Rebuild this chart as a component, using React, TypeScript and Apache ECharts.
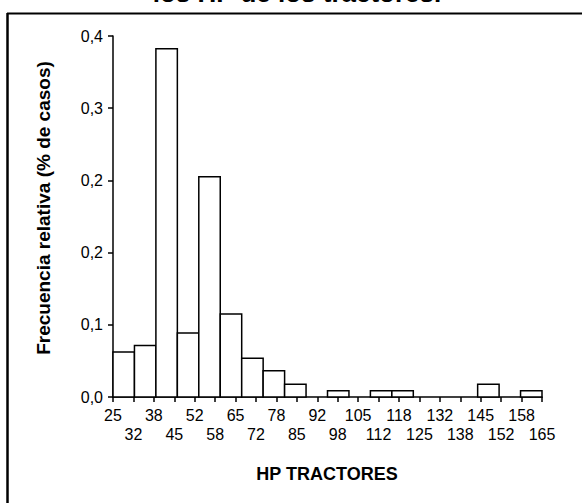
import React, { useEffect, useRef } from "react";
import * as echarts from "echarts";

// Histogram bins (HP) and relative frequencies
const binStarts = [25, 32, 39, 46, 53, 60, 67, 74, 81, 88, 95, 102, 109, 116, 123, 130, 137, 144, 151, 158];
const binEnds = [32, 39, 46, 53, 60, 67, 74, 81, 88, 95, 102, 109, 116, 123, 130, 137, 144, 151, 158, 165];
const freqs = [0.05, 0.057, 0.386, 0.071, 0.244, 0.092, 0.043, 0.029, 0.014, 0, 0.007, 0, 0.007, 0.007, 0, 0, 0, 0.014, 0, 0.007];

// x tick labels (21 equal intervals from 25 to 165)
const xTickLabels = ["25", "32", "38", "45", "52", "58", "65", "72", "78", "85", "92", "98", "105", "112", "118", "125", "132", "138", "145", "152", "158", "165"];

const titleText = "los HP de los tractores.";
const yName = "Frecuencia relativa (% de casos)";
const xName = "HP TRACTORES";

const FONT = "Liberation Sans, Arial, sans-serif";

export default function App() {
  const ref = useRef<HTMLDivElement>(null);
  useEffect(() => {
    if (!ref.current) return;
    const chart = echarts.init(ref.current, null, { renderer: "svg" });
    const data = binStarts.map((s, i) => [s, binEnds[i], freqs[i]]);
    const tickAxisBase = {
      type: "value",
      min: 0,
      max: xTickLabels.length - 1,
      interval: 1,
      position: "bottom",
      splitLine: { show: false },
    };
    const labelBase = {
      fontSize: 16,
      color: "#000",
      fontFamily: FONT,
      hideOverlap: false,
      showMinLabel: true,
      showMaxLabel: true,
    };
    chart.setOption({
      animation: false,
      backgroundColor: "#fff",
      textStyle: { fontFamily: FONT, color: "#000" },
      grid: { left: 113, right: 40, top: 36, bottom: 106 },
      xAxis: [
        { type: "value", min: 25, max: 165, show: false, position: "top" },
        {
          ...tickAxisBase,
          axisLine: { show: true, lineStyle: { color: "#000", width: 1.5 } },
          axisTick: { show: true, length: 5, lineStyle: { color: "#000", width: 1.5 } },
          axisLabel: {
            ...labelBase,
            margin: 10,
            formatter: (v: number) => {
              const i = Math.round(v);
              return i % 2 ? "" : xTickLabels[i];
            },
          },
        },
        {
          ...tickAxisBase,
          axisLine: { show: false },
          axisTick: { show: false },
          axisLabel: {
            ...labelBase,
            margin: 29,
            formatter: (v: number) => {
              const i = Math.round(v);
              return i % 2 ? xTickLabels[i] : "";
            },
          },
        },
      ],
      yAxis: {
        type: "value",
        min: 0,
        max: 0.4,
        interval: 0.08,
        axisLine: { show: true, lineStyle: { color: "#000", width: 1.5 } },
        axisTick: { show: true, length: 5, lineStyle: { color: "#000", width: 1.5 } },
        splitLine: { show: false },
        axisLabel: {
          margin: 10,
          fontSize: 16,
          color: "#000",
          fontFamily: FONT,
          showMinLabel: true,
          showMaxLabel: true,
          formatter: (v: number) => v.toFixed(1).replace(".", ","),
        },
      },
      series: [
        {
          type: "custom",
          xAxisIndex: 0,
          yAxisIndex: 0,
          data,
          encode: { x: [0, 1], y: 2 },
          renderItem: (params: any, api: any) => {
            const s = api.value(0);
            const e = api.value(1);
            const v = api.value(2);
            if (!v) return null;
            const p1 = api.coord([s, v]);
            const p2 = api.coord([e, 0]);
            return {
              type: "rect",
              shape: { x: p1[0], y: p1[1], width: p2[0] - p1[0], height: p2[1] - p1[1] },
              style: { fill: "#fff", stroke: "#000", lineWidth: 1.5 },
            };
          },
        },
      ],
      graphic: [
        {
          type: "line",
          shape: { x1: 7, y1: 13.5, x2: 590, y2: 13.5 },
          style: { stroke: "#000", lineWidth: 2 },
        },
        {
          type: "line",
          shape: { x1: 7.5, y1: 13, x2: 7.5, y2: 510 },
          style: { stroke: "#000", lineWidth: 2.5 },
        },
        {
          type: "text",
          x: 297,
          y: 6,
          style: {
            text: titleText,
            font: `bold 26px ${FONT}`,
            fill: "#000",
            align: "center",
            verticalAlign: "bottom",
          },
        },
        {
          type: "text",
          x: 43,
          y: 208,
          rotation: Math.PI / 2,
          style: {
            text: yName,
            font: `bold 19px ${FONT}`,
            fill: "#000",
            align: "center",
            verticalAlign: "middle",
          },
        },
        {
          type: "text",
          x: 327,
          y: 474,
          style: {
            text: xName,
            font: `bold 18px ${FONT}`,
            fill: "#000",
            align: "center",
            verticalAlign: "middle",
          },
        },
      ],
    });
    return () => chart.dispose();
  }, []);
  return (
    <div
      ref={ref}
      style={{ position: "fixed", left: 0, top: 0, width: 582, height: 503 }}
    />
  );
}
